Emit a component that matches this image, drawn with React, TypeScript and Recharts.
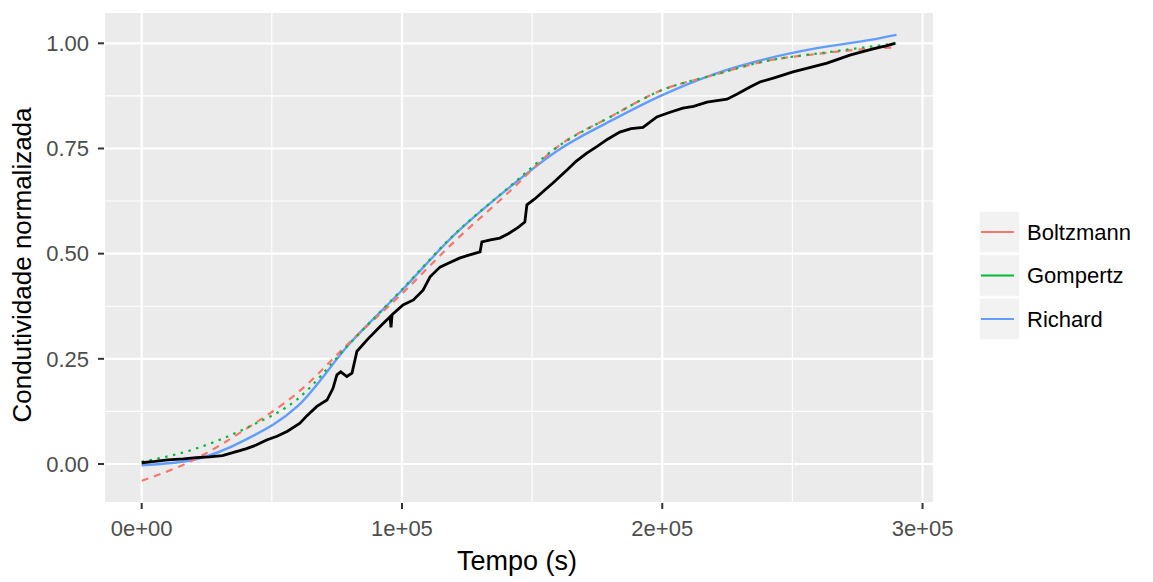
import React from 'react';
import { LineChart, Line, XAxis, YAxis, CartesianGrid, ReferenceLine, Legend, Label } from 'recharts';

const FONT = '"Liberation Sans", Arial, Helvetica, sans-serif';

// Fitted models, sampled every 20 000 s
const fitTime = [0, 20000, 40000, 60000, 80000, 100000, 120000, 140000, 160000, 180000, 200000, 220000, 240000, 260000, 280000, 290000];
const boltzmannFit = [-0.04, 0.01, 0.083, 0.17, 0.29, 0.405, 0.528, 0.64, 0.755, 0.825, 0.889, 0.925, 0.958, 0.975, 0.987, 0.99];
const gompertzFit = [0.005, 0.035, 0.085, 0.155, 0.287, 0.415, 0.545, 0.652, 0.755, 0.825, 0.889, 0.925, 0.958, 0.976, 0.992, 1.0];
const richardFit = [-0.003, 0.01, 0.058, 0.138, 0.287, 0.413, 0.544, 0.651, 0.746, 0.815, 0.877, 0.927, 0.963, 0.989, 1.008, 1.02];

// Measured normalized conductivity
const measuredTime = [
  0, 5000, 10000, 16000, 21000, 26000, 31000, 35000, 40000, 44000, 48000, 52000, 56000, 60800, 63500,
  67300, 71200, 73500, 75000, 76500, 78800, 80800, 82700, 86600, 91500, 95400, 95800, 96200, 100400,
  104400, 108100, 110800, 114600, 118000, 122300, 126000, 130000, 130700, 134000, 137600, 141000, 144500,
  147200, 148000, 151000, 155000, 158000, 163400, 167000, 171000, 175000, 179000, 183700, 188000, 192600,
  197900, 203000, 207900, 212000, 217200, 221000, 224900, 229000, 233700, 237500, 243000, 250200, 257000,
  263300, 268000, 272100, 277000, 282500, 286000, 289400,
];
const measuredValue = [
  0.003, 0.006, 0.01, 0.012, 0.015, 0.017, 0.02, 0.027, 0.036, 0.045, 0.057, 0.066, 0.078, 0.097, 0.115,
  0.137, 0.152, 0.18, 0.212, 0.219, 0.208, 0.216, 0.268, 0.295, 0.326, 0.35, 0.325, 0.355, 0.378,
  0.39, 0.413, 0.445, 0.468, 0.478, 0.49, 0.497, 0.504, 0.528, 0.533, 0.537, 0.548, 0.562,
  0.575, 0.616, 0.63, 0.652, 0.668, 0.699, 0.72, 0.739, 0.755, 0.772, 0.789, 0.797, 0.8,
  0.825, 0.836, 0.846, 0.85, 0.86, 0.864, 0.867, 0.88, 0.896, 0.908, 0.918, 0.932, 0.943,
  0.953, 0.963, 0.972, 0.98, 0.989, 0.994, 1.0,
];

const xTicks = [0, 100000, 200000, 300000];
const xTickLabels = ['0e+00', '1e+05', '2e+05', '3e+05'];
const yTicks = [0, 0.25, 0.5, 0.75, 1];
const yTickLabels = ['0.00', '0.25', '0.50', '0.75', '1.00'];
const xMinor = [50000, 150000, 250000];
const yMinor = [0.125, 0.375, 0.625, 0.875];

const seriesNames = ['Boltzmann', 'Gompertz', 'Richard'];
const seriesColors = ['#F8766D', '#00BA38', '#619CFF'];

const toRows = (xs: number[], ys: number[]) => xs.map((t, i) => ({ t, y: ys[i] }));

const boltzmannRows = toRows(fitTime, boltzmannFit);
const gompertzRows = toRows(fitTime, gompertzFit);
const richardRows = toRows(fitTime, richardFit);
const measuredRows = toRows(measuredTime, measuredValue);

const LegendKeys = () => (
  <svg width={175} height={140} style={{ display: 'block' }}>
    {seriesNames.map((name, i) => {
      const y0 = i * 43.5;
      return (
        <g key={name}>
          <rect x={4} y={y0} width={41} height={42} fill="#f2f2f2" stroke="#ffffff" strokeWidth={1.5} />
          <line x1={6} x2={39} y1={y0 + 21} y2={y0 + 21} stroke={seriesColors[i]} strokeWidth={2.2} />
          <text x={52} y={y0 + 21} dy="0.36em" fontSize={22} fontFamily={FONT} fill="#000000">
            {name}
          </text>
        </g>
      );
    })}
  </svg>
);

export default function App() {
  return (
    <div style={{ position: 'absolute', left: 0, top: 0, background: '#ffffff' }}>
      <LineChart width={1153} height={582} margin={{ top: 12, right: 219, bottom: 29, left: 0 }}>
        <CartesianGrid fill="#ebebeb" stroke="#ffffff" strokeWidth={2.2} />
        <XAxis
          dataKey="t"
          type="number"
          domain={[-14480, 304400]}
          ticks={xTicks}
          tickFormatter={(v: number) => xTickLabels[xTicks.indexOf(v)]}
          allowDataOverflow
          axisLine={false}
          tickLine={{ stroke: '#333333', strokeWidth: 2 }}
          tickSize={6}
          tickMargin={11}
          height={50}
          tick={{ fill: '#4d4d4d', fontSize: 22, fontFamily: FONT }}
        >
          <Label
            content={() => (
              <text x={517} y={570} textAnchor="middle" fontSize={27} fontFamily={FONT} fill="#000000">
                Tempo (s)
              </text>
            )}
          />
        </XAxis>
        <YAxis
          type="number"
          domain={[-0.0927, 1.0744]}
          ticks={yTicks}
          tickFormatter={(v: number) => yTickLabels[yTicks.indexOf(v)]}
          allowDataOverflow
          axisLine={false}
          tickLine={{ stroke: '#333333', strokeWidth: 2 }}
          tickSize={6}
          tickMargin={9}
          width={104}
          tick={{ fill: '#4d4d4d', fontSize: 22, fontFamily: FONT }}
        >
          <Label
            content={() => (
              <text
                x={22}
                y={265}
                transform="rotate(-90 22 265)"
                textAnchor="middle"
                dominantBaseline="central"
                fontSize={26}
                fontFamily={FONT}
                fill="#000000"
              >
                Condutividade normalizada
              </text>
            )}
          />
        </YAxis>
        {xMinor.map((v) => (
          <ReferenceLine key={'mx' + v} x={v} stroke="#ffffff" strokeWidth={1.1} />
        ))}
        {yMinor.map((v) => (
          <ReferenceLine key={'my' + v} y={v} stroke="#ffffff" strokeWidth={1.1} />
        ))}
        <Legend
          layout="vertical"
          align="center"
          verticalAlign="middle"
          content={() => <LegendKeys />}
          wrapperStyle={{ left: 975, top: 211, width: 175, height: 140 }}
        />
        <Line
          data={richardRows}
          dataKey="y"
          name="Richard"
          type="monotone"
          stroke={seriesColors[2]}
          strokeWidth={2.4}
          dot={false}
          activeDot={false}
          isAnimationActive={false}
        />
        <Line
          data={boltzmannRows}
          dataKey="y"
          name="Boltzmann"
          type="monotone"
          stroke={seriesColors[0]}
          strokeWidth={2.2}
          strokeDasharray="7 6"
          dot={false}
          activeDot={false}
          isAnimationActive={false}
        />
        <Line
          data={gompertzRows}
          dataKey="y"
          name="Gompertz"
          type="monotone"
          stroke={seriesColors[1]}
          strokeWidth={2.2}
          strokeDasharray="2.5 5.5"
          dot={false}
          activeDot={false}
          isAnimationActive={false}
        />
        <Line
          data={measuredRows}
          dataKey="y"
          name="Medido"
          type="linear"
          stroke="#000000"
          strokeWidth={2.8}
          dot={false}
          activeDot={false}
          isAnimationActive={false}
        />
      </LineChart>
    </div>
  );
}
